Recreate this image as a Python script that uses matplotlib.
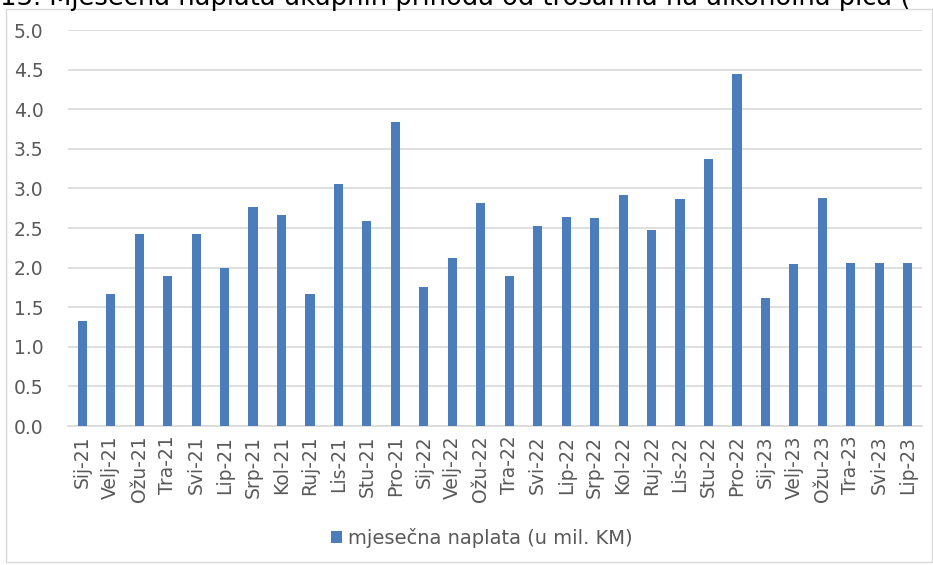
import matplotlib
matplotlib.use("Agg")
import matplotlib.pyplot as plt
from matplotlib.patches import Rectangle

# monthly collection, million KM
months = ["Sij-21", "Velj-21", "Ožu-21", "Tra-21", "Svi-21", "Lip-21", "Srp-21", "Kol-21",
          "Ruj-21", "Lis-21", "Stu-21", "Pro-21",
          "Sij-22", "Velj-22", "Ožu-22", "Tra-22", "Svi-22", "Lip-22", "Srp-22", "Kol-22",
          "Ruj-22", "Lis-22", "Stu-22", "Pro-22",
          "Sij-23", "Velj-23", "Ožu-23", "Tra-23", "Svi-23", "Lip-23"]
values = [1.33, 1.67, 2.42, 1.90, 2.43, 2.00, 2.76, 2.67,
          1.67, 3.05, 2.59, 3.84,
          1.75, 2.12, 2.82, 1.89, 2.52, 2.64, 2.62, 2.92,
          2.47, 2.87, 3.37, 4.45,
          1.62, 2.05, 2.88, 2.06, 2.06, 2.06]
yticks = [0.0, 0.5, 1.0, 1.5, 2.0, 2.5, 3.0, 3.5, 4.0, 4.5, 5.0]

series_label = "mjesečna naplata (u mil. KM)"
# only the part of the title visible in the source crop
title = "13. Mjesečna naplata ukupnih prihoda od trošarina na alkoholna pića ("

W, H = 933, 565
fig = plt.figure(figsize=(W / 100, H / 100), dpi=100)
ax = fig.add_axes([68 / W, 1 - 426 / H, (922 - 68) / W, (426 - 30) / H])

bar_color = "#4a7dba"
text_color = "#595959"

x = range(len(months))
bars = ax.bar(x, values, width=0.32, color=bar_color, label=series_label, zorder=3)

ax.set_xlim(-0.5, len(months) - 0.5)
ax.set_ylim(0, 5)
ax.set_yticks(yticks)
ax.set_yticklabels([f"{v:.1f}" for v in yticks])
ax.set_xticks(list(x))
ax.set_xticklabels(months, rotation=90)
ax.tick_params(axis="both", length=0, colors=text_color, labelsize=13.5)
ax.tick_params(axis="y", pad=39)
ax.tick_params(axis="x", pad=7)
for lab in ax.get_yticklabels():
    lab.set_horizontalalignment("left")

ax.grid(axis="y", color="#d9d9d9", linewidth=1.2, zorder=0)
for s in ["top", "right", "left"]:
    ax.spines[s].set_visible(False)
ax.spines["bottom"].set_color("#d9d9d9")
ax.spines["bottom"].set_linewidth(1.2)

leg = fig.legend(handles=[bars], labels=[series_label], loc="center",
                 bbox_to_anchor=(482 / W, 1 - 538 / H), frameon=False,
                 fontsize=14, handlelength=0.55, handleheight=0.55, handletextpad=0.3)
for t in leg.get_texts():
    t.set_color(text_color)

# chart frame
fig.patches.append(Rectangle((6 / W, 1 - 562 / H), (932 - 6) / W, (562 - 9) / H,
                             transform=fig.transFigure, fill=False,
                             edgecolor="#d9d9d9", linewidth=1))

# title, cut off at top as in the source
fig.text(0.0, 1 - 5 / H, title, ha="left", va="baseline", fontsize=18.5, color="black")

fig.savefig("out.png", dpi=100)
